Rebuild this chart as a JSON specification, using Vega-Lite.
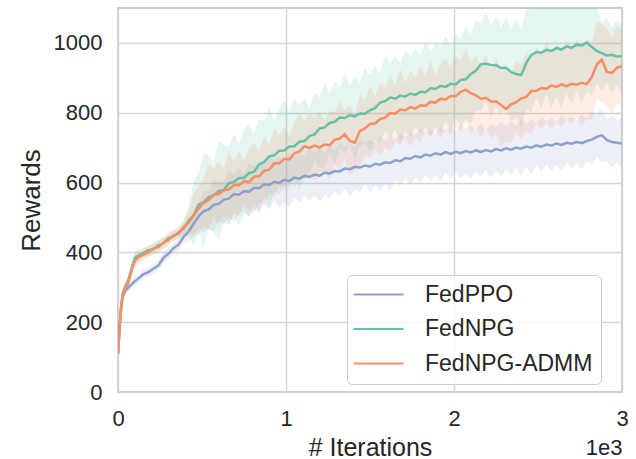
{
"$schema":"https://vega.github.io/schema/vega-lite/v6.json",
"width":504,"height":384,
"autosize":{"type":"none"},
"padding":{"left":118,"top":8,"right":14,"bottom":67},
"background":"white",
"config":{"font":"Liberation Sans","view":{"stroke":"#cccccc","strokeWidth":2}},
"data":{"values":[
{"x":0,"p":110,"pl":100,"ph":120,"n":110,"nl":100,"nh":120,"a":110,"al":100,"ah":120},
{"x":10,"p":185,"pl":170,"ph":200,"n":192,"nl":175,"nh":208,"a":190,"al":172,"ah":206},
{"x":20,"p":246,"pl":232,"ph":260,"n":252,"nl":236,"nh":268,"a":250,"al":234,"ah":266},
{"x":30,"p":276,"pl":264,"ph":289,"n":287,"nl":272,"nh":303,"a":284,"al":268,"ah":300},
{"x":45,"p":291,"pl":279,"ph":303,"n":303,"nl":287,"nh":320,"a":299,"al":283,"ah":316},
{"x":60,"p":299,"pl":287,"ph":312,"n":318,"nl":301,"nh":334,"a":313,"al":297,"ah":330},
{"x":80,"p":308,"pl":295,"ph":320,"n":352,"nl":335,"nh":370,"a":346,"al":329,"ah":363},
{"x":100,"p":317,"pl":305,"ph":330,"n":384,"nl":366,"nh":400,"a":376,"al":360,"ah":393},
{"x":125,"p":327,"pl":314,"ph":339,"n":392,"nl":375,"nh":409,"a":387,"al":370,"ah":404},
{"x":150,"p":337,"pl":324,"ph":349,"n":398,"nl":383,"nh":414,"a":393,"al":377,"ah":410},
{"x":180,"p":343,"pl":330,"ph":357,"n":406,"nl":390,"nh":420,"a":400,"al":385,"ah":417},
{"x":210,"p":353,"pl":338,"ph":367,"n":409,"nl":393,"nh":426,"a":411,"al":395,"ah":425},
{"x":240,"p":362,"pl":347,"ph":378,"n":420,"nl":404,"nh":434,"a":415,"al":399,"ah":432},
{"x":270,"p":384,"pl":369,"ph":400,"n":426,"nl":410,"nh":443,"a":428,"al":412,"ah":443},
{"x":300,"p":396,"pl":381,"ph":412,"n":441,"nl":425,"nh":456,"a":435,"al":420,"ah":452},
{"x":330,"p":412,"pl":396,"ph":427,"n":446,"nl":431,"nh":462,"a":449,"al":433,"ah":464},
{"x":360,"p":422,"pl":406,"ph":438,"n":457,"nl":441,"nh":472,"a":453,"al":438,"ah":470},
{"x":390,"p":444,"pl":425,"ph":463,"n":468,"nl":448,"nh":490,"a":472,"al":452,"ah":491},
{"x":420,"p":459,"pl":432,"ph":488,"n":491,"nl":450,"nh":532,"a":484,"al":455,"ah":515},
{"x":450,"p":482,"pl":443,"ph":524,"n":505,"nl":416,"nh":602,"a":507,"al":448,"ah":571},
{"x":480,"p":503,"pl":471,"ph":540,"n":537,"nl":459,"nh":628,"a":526,"al":448,"ah":591},
{"x":510,"p":518,"pl":458,"ph":578,"n":543,"nl":413,"nh":685,"a":542,"al":476,"ah":610},
{"x":540,"p":523,"pl":469,"ph":574,"n":558,"nl":467,"nh":677,"a":550,"al":464,"ah":654},
{"x":570,"p":536,"pl":462,"ph":610,"n":563,"nl":458,"nh":659,"a":565,"al":502,"ah":640},
{"x":600,"p":539,"pl":491,"ph":604,"n":576,"nl":436,"nh":720,"a":567,"al":475,"ah":661},
{"x":630,"p":551,"pl":481,"ph":602,"n":579,"nl":484,"nh":708,"a":578,"al":506,"ah":640},
{"x":660,"p":554,"pl":499,"ph":633,"n":598,"nl":478,"nh":704,"a":580,"al":483,"ah":688},
{"x":690,"p":567,"pl":487,"ph":624,"n":602,"nl":509,"nh":740,"a":593,"al":514,"ah":661},
{"x":720,"p":565,"pl":508,"ph":642,"n":613,"nl":475,"nh":709,"a":592,"al":504,"ah":690},
{"x":750,"p":575,"pl":520,"ph":626,"n":614,"nl":511,"nh":753,"a":604,"al":538,"ah":663},
{"x":780,"p":574,"pl":503,"ph":655,"n":627,"nl":503,"nh":767,"a":601,"al":519,"ah":696},
{"x":810,"p":585,"pl":524,"ph":646,"n":631,"nl":543,"nh":739,"a":617,"al":513,"ah":714},
{"x":840,"p":584,"pl":511,"ph":659,"n":652,"nl":517,"nh":781,"a":618,"al":543,"ah":692},
{"x":870,"p":595,"pl":540,"ph":652,"n":659,"nl":565,"nh":775,"a":634,"al":540,"ah":731},
{"x":900,"p":593,"pl":524,"ph":678,"n":675,"nl":532,"nh":813,"a":637,"al":570,"ah":706},
{"x":930,"p":602,"pl":549,"ph":663,"n":678,"nl":574,"nh":776,"a":655,"al":558,"ah":755},
{"x":960,"p":599,"pl":528,"ph":677,"n":691,"nl":564,"nh":814,"a":655,"al":592,"ah":735},
{"x":990,"p":608,"pl":544,"ph":663,"n":692,"nl":595,"nh":834,"a":668,"al":577,"ah":760},
{"x":1020,"p":604,"pl":528,"ph":686,"n":703,"nl":583,"nh":801,"a":666,"al":610,"ah":734},
{"x":1050,"p":614,"pl":557,"ph":673,"n":704,"nl":613,"nh":842,"a":684,"al":585,"ah":773},
{"x":1080,"p":611,"pl":542,"ph":686,"n":717,"nl":581,"nh":821,"a":689,"al":616,"ah":797},
{"x":1110,"p":619,"pl":563,"ph":675,"n":719,"nl":616,"nh":842,"a":704,"al":607,"ah":775},
{"x":1140,"p":616,"pl":547,"ph":697,"n":733,"nl":616,"nh":814,"a":699,"al":631,"ah":799},
{"x":1170,"p":623,"pl":564,"ph":687,"n":738,"nl":666,"nh":857,"a":706,"al":605,"ah":786},
{"x":1200,"p":620,"pl":546,"ph":698,"n":755,"nl":642,"nh":844,"a":701,"al":629,"ah":806},
{"x":1230,"p":628,"pl":566,"ph":685,"n":758,"nl":643,"nh":883,"a":709,"al":632,"ah":776},
{"x":1260,"p":626,"pl":552,"ph":707,"n":771,"nl":683,"nh":855,"a":707,"al":607,"ah":806},
{"x":1290,"p":633,"pl":577,"ph":694,"n":774,"nl":654,"nh":891,"a":723,"al":655,"ah":801},
{"x":1320,"p":632,"pl":562,"ph":715,"n":786,"nl":696,"nh":873,"a":726,"al":630,"ah":833},
{"x":1350,"p":640,"pl":584,"ph":702,"n":785,"nl":684,"nh":912,"a":738,"al":671,"ah":809},
{"x":1380,"p":638,"pl":560,"ph":713,"n":793,"nl":713,"nh":878,"a":719,"al":618,"ah":821},
{"x":1410,"p":645,"pl":583,"ph":702,"n":790,"nl":665,"nh":905,"a":714,"al":635,"ah":793},
{"x":1440,"p":643,"pl":571,"ph":724,"n":798,"nl":704,"nh":886,"a":748,"al":640,"ah":854},
{"x":1470,"p":649,"pl":596,"ph":712,"n":797,"nl":711,"nh":929,"a":755,"al":677,"ah":835},
{"x":1500,"p":646,"pl":569,"ph":723,"n":807,"nl":686,"nh":906,"a":768,"al":670,"ah":879},
{"x":1530,"p":654,"pl":595,"ph":712,"n":813,"nl":721,"nh":936,"a":769,"al":695,"ah":845},
{"x":1560,"p":651,"pl":576,"ph":734,"n":829,"nl":713,"nh":912,"a":782,"al":677,"ah":886},
{"x":1590,"p":658,"pl":595,"ph":719,"n":833,"nl":750,"nh":964,"a":786,"al":702,"ah":870},
{"x":1620,"p":656,"pl":578,"ph":735,"n":844,"nl":728,"nh":941,"a":799,"al":689,"ah":909},
{"x":1650,"p":664,"pl":607,"ph":721,"n":840,"nl":751,"nh":963,"a":797,"al":718,"ah":878},
{"x":1680,"p":661,"pl":591,"ph":741,"n":849,"nl":717,"nh":941,"a":809,"al":708,"ah":926},
{"x":1710,"p":670,"pl":611,"ph":729,"n":846,"nl":748,"nh":980,"a":807,"al":730,"ah":884},
{"x":1740,"p":668,"pl":592,"ph":744,"n":855,"nl":731,"nh":964,"a":816,"al":703,"ah":919},
{"x":1770,"p":676,"pl":615,"ph":736,"n":851,"nl":762,"nh":984,"a":812,"al":729,"ah":901},
{"x":1800,"p":672,"pl":599,"ph":755,"n":860,"nl":741,"nh":963,"a":821,"al":714,"ah":933},
{"x":1830,"p":680,"pl":624,"ph":743,"n":859,"nl":759,"nh":1005,"a":820,"al":745,"ah":904},
{"x":1860,"p":677,"pl":602,"ph":752,"n":870,"nl":735,"nh":973,"a":831,"al":731,"ah":948},
{"x":1890,"p":684,"pl":624,"ph":739,"n":868,"nl":757,"nh":1000,"a":829,"al":748,"ah":908},
{"x":1920,"p":680,"pl":603,"ph":760,"n":877,"nl":744,"nh":991,"a":840,"al":727,"ah":942},
{"x":1950,"p":687,"pl":629,"ph":749,"n":874,"nl":775,"nh":1019,"a":838,"al":751,"ah":955},
{"x":1980,"p":682,"pl":611,"ph":760,"n":883,"nl":753,"nh":993,"a":848,"al":738,"ah":931},
{"x":2010,"p":688,"pl":631,"ph":748,"n":881,"nl":786,"nh":1026,"a":847,"al":762,"ah":961},
{"x":2040,"p":684,"pl":610,"ph":766,"n":894,"nl":759,"nh":1010,"a":860,"al":746,"ah":949},
{"x":2070,"p":690,"pl":628,"ph":754,"n":896,"nl":782,"nh":1049,"a":866,"al":775,"ah":986},
{"x":2100,"p":686,"pl":608,"ph":763,"n":911,"nl":768,"nh":1024,"a":856,"al":738,"ah":943},
{"x":2130,"p":692,"pl":632,"ph":753,"n":920,"nl":807,"nh":1068,"a":850,"al":760,"ah":964},
{"x":2160,"p":688,"pl":615,"ph":769,"n":939,"nl":804,"nh":1056,"a":840,"al":727,"ah":935},
{"x":2190,"p":693,"pl":637,"ph":753,"n":940,"nl":832,"nh":1092,"a":843,"al":759,"ah":963},
{"x":2220,"p":689,"pl":612,"ph":769,"n":937,"nl":788,"nh":1048,"a":832,"al":722,"ah":920},
{"x":2250,"p":696,"pl":635,"ph":759,"n":936,"nl":819,"nh":1075,"a":833,"al":745,"ah":960},
{"x":2280,"p":692,"pl":617,"ph":775,"n":928,"nl":791,"nh":1045,"a":822,"al":702,"ah":917},
{"x":2310,"p":698,"pl":639,"ph":763,"n":929,"nl":818,"nh":1079,"a":811,"al":719,"ah":927},
{"x":2340,"p":694,"pl":620,"ph":774,"n":916,"nl":774,"nh":1039,"a":824,"al":713,"ah":909},
{"x":2370,"p":700,"pl":644,"ph":762,"n":911,"nl":790,"nh":1070,"a":830,"al":746,"ah":950},
{"x":2400,"p":697,"pl":621,"ph":782,"n":908,"nl":758,"nh":1037,"a":841,"al":723,"ah":936},
{"x":2430,"p":703,"pl":644,"ph":767,"n":942,"nl":812,"nh":1102,"a":845,"al":746,"ah":973},
{"x":2460,"p":700,"pl":624,"ph":781,"n":965,"nl":801,"nh":1098,"a":862,"al":740,"ah":955},
{"x":2490,"p":706,"pl":649,"ph":769,"n":974,"nl":844,"nh":1140,"a":863,"al":770,"ah":987},
{"x":2520,"p":703,"pl":631,"ph":786,"n":972,"nl":815,"nh":1110,"a":871,"al":754,"ah":969},
{"x":2550,"p":709,"pl":652,"ph":775,"n":980,"nl":854,"nh":1144,"a":869,"al":773,"ah":1001},
{"x":2580,"p":706,"pl":632,"ph":786,"n":977,"nl":813,"nh":1120,"a":878,"al":752,"ah":972},
{"x":2610,"p":712,"pl":652,"ph":773,"n":985,"nl":846,"nh":1148,"a":874,"al":775,"ah":996},
{"x":2640,"p":708,"pl":633,"ph":792,"n":981,"nl":812,"nh":1118,"a":881,"al":759,"ah":984},
{"x":2670,"p":714,"pl":658,"ph":780,"n":990,"nl":857,"nh":1152,"a":876,"al":783,"ah":1007},
{"x":2700,"p":711,"pl":638,"ph":791,"n":986,"nl":824,"nh":1129,"a":883,"al":765,"ah":982},
{"x":2730,"p":716,"pl":657,"ph":778,"n":995,"nl":864,"nh":1154,"a":880,"al":786,"ah":1010},
{"x":2760,"p":713,"pl":637,"ph":795,"n":993,"nl":827,"nh":1133,"a":886,"al":762,"ah":987},
{"x":2790,"p":719,"pl":661,"ph":783,"n":1001,"nl":863,"nh":1158,"a":882,"al":782,"ah":1009},
{"x":2820,"p":723,"pl":651,"ph":803,"n":988,"nl":848,"nh":1110,"a":902,"al":780,"ah":1002},
{"x":2850,"p":731,"pl":673,"ph":796,"n":977,"nl":884,"nh":1098,"a":938,"al":838,"ah":1062},
{"x":2880,"p":735,"pl":659,"ph":812,"n":971,"nl":862,"nh":1058,"a":952,"al":831,"ah":1054},
{"x":2910,"p":722,"pl":661,"ph":780,"n":964,"nl":885,"nh":1071,"a":917,"al":820,"ah":1040},
{"x":2940,"p":716,"pl":643,"ph":793,"n":966,"nl":858,"nh":1044,"a":914,"al":795,"ah":1017},
{"x":2970,"p":714,"pl":656,"ph":777,"n":961,"nl":880,"nh":1066,"a":929,"al":828,"ah":1050},
{"x":3000,"p":712,"pl":642,"ph":786,"n":962,"nl":858,"nh":1048,"a":933,"al":818,"ah":1036}
]},
"resolve":{"axis":{"x":"independent","y":"independent"}},
"layer":[
{"mark":{"type":"area","color":"#8da0cb","opacity":0.17,"clip":true},
 "encoding":{
  "x":{"field":"x","type":"quantitative","scale":{"domain":[0,3000],"nice":false,"zero":false},
       "axis":{"orient":"bottom","title":"1e3","titleAnchor":"end","titleFontSize":22,"titleFontWeight":"normal","titleColor":"#262626","titlePadding":45,"labels":false,"ticks":false,"domain":false,"grid":false}},
  "y":{"field":"pl","type":"quantitative","scale":{"domain":[0,1100],"nice":false},"axis":null},
  "y2":{"field":"ph"}}},
{"mark":{"type":"area","color":"#66c2a5","opacity":0.17,"clip":true},
 "encoding":{
  "x":{"field":"x","type":"quantitative","axis":null},
  "y":{"field":"nl","type":"quantitative","axis":null},
  "y2":{"field":"nh"}}},
{"mark":{"type":"area","color":"#fc8d62","opacity":0.17,"clip":true},
 "encoding":{
  "x":{"field":"x","type":"quantitative","axis":null},
  "y":{"field":"al","type":"quantitative","axis":null},
  "y2":{"field":"ah"}}},
{"mark":{"type":"line","strokeWidth":2.5,"clip":true},
 "encoding":{
  "x":{"field":"x","type":"quantitative",
       "axis":{"orient":"bottom","title":"# Iterations","values":[0,1000,2000,3000],"labelExpr":"datum.value/1000","labelFlush":false,"labelFontSize":22,"labelColor":"#262626","labelPadding":16,"titleFontSize":25,"titleFontWeight":"normal","titleColor":"#262626","titlePadding":6,"ticks":false,"tickSize":0,"domain":false,"grid":true,"gridColor":"#d6d6d6","gridWidth":1.5}},
  "y":{"field":"p","type":"quantitative",
       "axis":{"title":"Rewards","values":[0,200,400,600,800,1000],"format":"d","labelFontSize":22,"labelColor":"#262626","labelPadding":16,"titleFontSize":26,"titleFontWeight":"normal","titleColor":"#262626","titlePadding":9,"ticks":false,"tickSize":0,"domain":false,"grid":true,"gridColor":"#d6d6d6","gridWidth":1.5}},
  "color":{"datum":"FedPPO","type":"nominal",
       "scale":{"domain":["FedPPO","FedNPG","FedNPG-ADMM"],"range":["#8da0cb","#66c2a5","#fc8d62"]},
       "legend":{"orient":"none","legendX":229,"legendY":267,"title":null,"labelFontSize":23,"labelLimit":400,"labelColor":"#262626","symbolType":"M-5,0H5","symbolSize":100,"symbolStrokeWidth":1.8,"symbolOffset":12,"labelOffset":35,"padding":8,"rowPadding":10.5,"fillColor":"rgba(255,255,255,0.8)","strokeColor":"#cccccc","cornerRadius":5}}}},
{"mark":{"type":"line","strokeWidth":2.5,"clip":true},
 "encoding":{
  "x":{"field":"x","type":"quantitative","axis":null},
  "y":{"field":"n","type":"quantitative","axis":null},
  "color":{"datum":"FedNPG","type":"nominal"}}},
{"mark":{"type":"line","strokeWidth":2.5,"clip":true},
 "encoding":{
  "x":{"field":"x","type":"quantitative","axis":null},
  "y":{"field":"a","type":"quantitative","axis":null},
  "color":{"datum":"FedNPG-ADMM","type":"nominal"}}}
]
}
